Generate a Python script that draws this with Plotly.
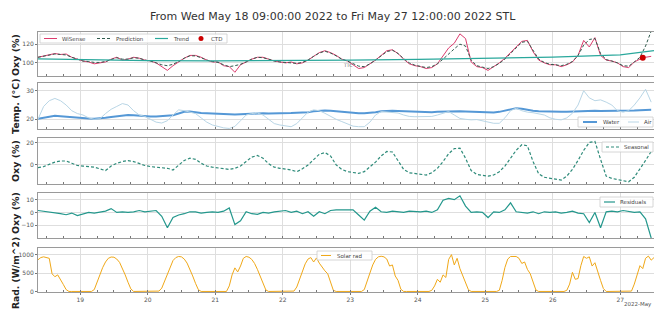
import pandas as pd
import plotly.graph_objects as go

FONT = "DejaVu Sans"

title_text = "From Wed May 18 09:00:00 2022 to Fri May 27 12:00:00 2022 STL"
start_time = "2022-05-18 09:00"
end_time = "2022-05-27 12:00"

day_ticks = ["2022-05-19", "2022-05-20", "2022-05-21", "2022-05-22", "2022-05-23",
             "2022-05-24", "2022-05-25", "2022-05-26", "2022-05-27"]
day_labels = ["19", "20", "21", "22", "23", "24", "25", "26", "27"]

# 2-hourly samples from May 18 09:00 (110 values), hourly for solar (220 values)
time_2h = pd.date_range(start_time, periods=110, freq="2h")
time_1h = pd.date_range(start_time, periods=220, freq="1h")

wisense = [
    106, 107.5, 109, 110, 109, 109.5, 106, 104,
    102, 101, 99, 100, 101, 104, 106, 103, 104, 106, 105, 103,
    102, 100, 96, 92, 97, 101, 105, 108, 108, 106, 103, 101,
    101, 97, 96, 90, 98, 101, 104, 106, 106, 104, 102, 101,
    100, 101, 99, 100, 103, 107, 111, 113, 111, 108, 104, 102,
    98, 94, 95, 99, 103, 108, 113, 114, 110, 104, 99, 97,
    96, 94, 95, 99, 108, 116, 121, 131, 126, 101, 96, 95,
    92, 96, 100, 105, 111, 118, 123, 124, 112, 103, 100, 98,
    98, 96, 98, 101, 108, 124, 117, 127, 108, 103, 102, 100,
    96, 95, 101, 104, 106, 107,
]
prediction = [
    106, 107, 108.5, 109.5, 109, 108.5, 106, 104,
    102, 101.5, 100.5, 100.5, 101.5, 103.5, 105.5, 104, 104, 105.5, 105, 103,
    102, 100, 98, 97, 98.5, 101.5, 105, 107.5, 107.5, 105.5, 103, 101.5,
    100.5, 98, 96, 97, 98.5, 101, 104, 106, 105.5, 104, 102, 101,
    100.5, 100.5, 99.5, 100.5, 103, 107, 110.5, 112.5, 110.5, 107.5, 104, 102,
    99, 96.5, 96, 99, 103, 107.5, 112, 113.5, 110, 104.5, 100, 97.5,
    96, 95, 96, 99, 104, 110, 115, 120, 118, 103, 97, 95.5,
    94, 96, 99.5, 104, 110, 117, 122, 123, 113, 104, 100.5, 98.5,
    98, 97, 98.5, 101.5, 108, 119, 125, 126, 110, 103.5, 102, 100,
    97, 96.5, 101, 106, 118, 134,
]
trend_time = ["2022-05-18 09:00", "2022-05-19 00:00", "2022-05-20 00:00", "2022-05-21 00:00",
              "2022-05-22 00:00", "2022-05-23 00:00", "2022-05-24 00:00", "2022-05-25 00:00",
              "2022-05-26 00:00", "2022-05-27 00:00", "2022-05-27 06:00", "2022-05-27 12:00"]
trend = [104.2, 103.3, 102.5, 102.1, 102.3, 102.9, 103.7, 104.7, 106.2, 108.6, 110.5, 113.0]
ctd_time = ["2022-05-27 08:00"]
ctd = [105.5]

water = [
    20.2, 20.5, 20.9, 21.2, 21.1, 20.9, 20.8, 20.6,
    20.5, 20.3, 20.2, 20.3, 20.5, 20.8, 21.1, 21.3, 21.5, 21.4, 21.2, 21.2,
    21.0, 21.0, 21.1, 21.2, 21.4, 22.0, 22.6, 22.7, 22.4, 22.2, 22.1, 22.0,
    21.9, 21.8, 21.8, 21.7, 21.8, 21.9, 22.0, 22.1, 22.1, 22.0, 22.0, 22.1,
    22.2, 22.2, 22.3, 22.3, 22.5, 22.8, 23.0, 23.1, 23.0, 22.8, 22.6, 22.4,
    22.2, 22.1, 22.1, 22.2, 22.5, 22.8, 23.0, 23.0, 22.9, 22.8, 22.7, 22.7,
    22.6, 22.6, 22.5, 22.6, 22.7, 22.8, 22.9, 22.8, 22.7, 22.6, 22.5, 22.5,
    22.4, 22.4, 22.6, 23.0, 23.5, 23.9, 23.7, 23.3, 23.0, 22.8, 22.7, 22.7,
    22.6, 22.6, 22.6, 22.7, 22.8, 22.9, 23.0, 23.0, 22.9, 22.9, 23.0, 23.0,
    23.0, 23.0, 23.1, 23.2, 23.3, 23.3,
]
air = [
    20.0, 24.5, 26.5, 27.3, 26.5, 25.0, 23.0, 22.0,
    21.5, 20.5, 20.0, 20.2, 22.0, 23.5, 24.5, 25.5, 25.0, 23.0, 21.5, 21.0,
    20.0, 19.0, 18.7, 19.5, 21.5, 23.3, 23.0, 22.5, 22.0, 20.5, 19.0, 18.0,
    17.5, 17.0, 16.8, 17.5, 19.5, 21.5, 22.0, 22.2, 21.5, 20.0, 18.5, 18.0,
    17.6, 17.4, 18.5, 20.5, 22.5, 23.3, 23.0, 22.1, 21.0, 20.0, 19.2, 18.5,
    17.6, 17.4, 17.4, 19.0, 21.5, 22.7, 22.5, 22.3, 22.2, 21.5, 21.0, 20.9,
    20.9, 20.8, 21.0, 21.5, 22.0, 22.7, 21.5, 20.3, 20.0, 19.8, 19.9, 19.5,
    19.0, 18.6, 18.6, 20.5, 23.0, 23.9, 23.0, 22.5, 22.3, 22.0, 21.5, 20.5,
    20.0, 19.8, 20.5, 22.1, 25.0, 30.0, 27.5, 26.5, 26.8, 26.0, 25.0, 23.0,
    22.5, 23.0, 25.0, 27.5, 30.5, 26.0,
]
seasonal = [
    -2.5, -1.5, 0.5, 2.5, 3.5, 3.5, 1.5, -0.5,
    -1.0, -1.5, -2.0, -3.5, -5.0, -1.0, 1.5, 3.0, 3.9, 3.0, 1.0, -0.5,
    -1.5, -2.0, -2.5, -3.0, -4.5, 0.0, 4.0, 6.0, 5.0, 1.5, -1.0, -2.0,
    -2.5, -3.0, -4.0, -3.0, -1.0, 3.0, 7.0, 8.4, 6.0, 1.0, -2.0, -3.0,
    -3.5, -4.5, -6.0, -3.5, 0.0, 4.5, 9.5, 11.0, 8.0, 0.0, -4.0, -6.0,
    -6.5, -7.5, -6.0, -2.0, 2.5, 8.0, 12.0, 11.5, 4.0, -4.0, -7.0, -7.5,
    -8.0, -9.0, -7.0, -3.0, 3.0, 10.0, 14.5, 15.0, 6.0, -5.0, -8.5, -9.0,
    -10.0, -9.0, -6.0, -1.0, 6.0, 13.0, 18.0, 17.0, 3.0, -8.0, -11.0, -12.0,
    -12.5, -13.5, -10.0, -4.0, 4.0, 13.0, 20.0, 21.0, 5.0, -10.0, -12.0, -13.0,
    -14.0, -15.0, -11.0, -4.0, 4.0, 12.0,
]
residuals = [
    1.5, 1.0, 0.5, 0.0, -1.0, -1.8, -0.5, -2.5,
    -1.0, 0.0, -0.5, 0.5, 1.0, 3.0, 0.0, 0.5, 0.0, 0.5, 1.5, 0.5,
    1.0, 1.5, -3.0, -12.0, -4.0, -2.0, -1.0, 0.5, 0.5, -0.5, 0.0, 0.5,
    0.0, 1.0, 3.5, -9.5, -6.5, 0.5, -1.0, -1.5, 0.0, -0.5, 0.5, 1.0,
    1.5, 0.0, 1.0, -1.0, 0.5, -3.0, 0.5, -1.0, 1.5, 2.0, 2.0, 1.5,
    2.0, -2.0, -6.0, 1.0, 4.0, 0.5, 0.0, 1.0, 0.5, 0.0, 1.0, 0.5,
    0.5, 1.0, 0.0, 2.0, 9.5, 11.0, 10.0, 13.0, 5.0, 0.0, 0.5, 0.0,
    -4.0, 0.5, 0.0, 2.0, 7.5, 0.5, 0.0, -0.5, 0.5, -1.0, 0.5, 0.0,
    0.5, -0.5, 0.0, 1.0, -0.5, -1.0, -8.0, 0.0, -12.0, 0.5, 1.0, 0.5,
    1.5, 0.5, 0.0, 0.5, -5.0, -20.0,
]
solar = [
    # May 18 09:00-23:00
    860, 920, 940, 930, 900, 480, 400, 450, 300, 190, 50, 0, 0, 0, 0,
    # May 19
    0, 0, 0, 0, 0, 50, 230, 450, 650, 800, 900, 935, 930, 880, 790, 640, 450, 250, 70, 0, 0, 0, 0, 0,
    # May 20
    0, 0, 0, 0, 10, 90, 280, 500, 700, 840, 920, 950, 940, 880, 770, 610, 420, 220, 50, 0, 0, 0, 0, 0,
    # May 21
    0, 0, 0, 0, 0, 150, 450, 640, 530, 690, 900, 950, 930, 870, 760, 600, 420, 220, 40, 0, 0, 0, 0, 0,
    # May 22
    0, 0, 0, 0, 10, 120, 330, 560, 750, 880, 920, 800, 910, 770, 650, 560, 480, 220, 30, 0, 0, 0, 0, 0,
    # May 23
    0, 0, 0, 0, 0, 50, 250, 500, 720, 870, 940, 955, 940, 880, 690, 720, 420, 300, 60, 0, 0, 0, 0, 0,
    # May 24
    0, 0, 0, 0, 0, 30, 150, 330, 250, 450, 380, 870, 1000, 720, 900, 620, 420, 220, 50, 0, 0, 0, 0, 0,
    # May 25
    0, 0, 0, 0, 0, 30, 300, 650, 880, 950, 955, 950, 900, 760, 800, 600, 480, 250, 40, 0, 0, 0, 0, 0,
    # May 26
    0, 0, 0, 0, 0, 30, 200, 520, 330, 350, 700, 950, 900, 940, 690, 780, 520, 300, 80, 0, 0, 0, 0, 0,
    # May 27 00:00-12:00
    0, 0, 0, 0, 10, 200, 450, 700, 620, 900, 960, 850, 920,
]

C_WISENSE = "#dc3c6e"
C_PRED = "#2f5a4c"
C_TREND = "#2aa89c"
C_CTD = "#cc0000"
C_WATER = "#5598d6"
C_AIR = "#b9d6e6"
C_SEAS = "#2e8b7a"
C_RESID = "#23978c"
C_SOLAR = "#f0a818"
DASH = "3px,2px"

fig = go.Figure()

def add(trace, row):
    suffix = "" if row == 1 else str(row)
    trace.update(xaxis="x" + suffix, yaxis="y" + suffix, showlegend=False)
    fig.add_trace(trace)

add(go.Scatter(x=time_2h, y=wisense, name="WiSense", mode="lines",
               line=dict(color=C_WISENSE, width=1)), 1)
add(go.Scatter(x=time_2h, y=prediction, name="Prediction", mode="lines",
               line=dict(color=C_PRED, width=1, dash=DASH)), 1)
add(go.Scatter(x=trend_time, y=trend, name="Trend", mode="lines",
               line=dict(color=C_TREND, width=1.2)), 1)
add(go.Scatter(x=ctd_time, y=ctd, name="CTD", mode="markers",
               marker=dict(color=C_CTD, size=6)), 1)

add(go.Scatter(x=time_2h, y=water, name="Water", mode="lines",
               line=dict(color=C_WATER, width=2)), 2)
add(go.Scatter(x=time_2h, y=air, name="Air", mode="lines",
               line=dict(color=C_AIR, width=1)), 2)

add(go.Scatter(x=time_2h, y=seasonal, name="Seasonal", mode="lines",
               line=dict(color=C_SEAS, width=1.2, dash=DASH)), 3)
add(go.Scatter(x=time_2h, y=residuals, name="Residuals", mode="lines",
               line=dict(color=C_RESID, width=1.2)), 4)
add(go.Scatter(x=time_1h, y=solar, name="Solar rad", mode="lines",
               line=dict(color=C_SOLAR, width=1)), 5)

# ---- layout geometry (pixels of the 654x310 canvas) ----
W, H = 654, 310
ML, MR, MT, MB = 38, 0, 32, 18
PW, PH = W - ML - MR, H - MT - MB

def px(xp):
    return (xp - ML) / PW

def py(yp):
    return (H - MB - yp) / PH

panel_px = [(32, 76), (83, 129), (138, 184), (193, 238), (248, 292)]
domains = [[py(b), py(t)] for (t, b) in panel_px]
yranges = [[86, 133], [16.6, 32.7], [-17, 24], [-20, 15.2], [-15, 1180]]
yticks = [[100, 120], [20, 30], [0, 20], [-10, 0, 10], [0, 500, 1000]]
ytitles = ["Oxy (%)", "Temp. (°C)", "Oxy (%)", "Oxy (%)", "Rad. (W/m^2)"]
ytitle_centers = [55, 106, 161, 213, 273]
ytitle_sizes = [9.5, 9.5, 9.5, 9.5, 9.2]

layout = dict(
    width=W, height=H,
    margin=dict(l=ML, r=MR, t=MT, b=MB, autoexpand=False),
    paper_bgcolor="white", plot_bgcolor="white",
    font=dict(family=FONT, size=6, color="#444"),
    showlegend=False,
)
annotations = []
shapes = []
for i in range(5):
    suffix = "" if i == 0 else str(i + 1)
    layout["xaxis" + suffix] = dict(
        domain=[0, 1], anchor="y" + suffix, range=[start_time, end_time],
        matches=None if i == 0 else "x",
        tickmode="array", tickvals=day_ticks, ticktext=day_labels,
        showticklabels=(i == 4), ticks="outside" if i == 4 else "", ticklen=2,
        tickcolor="#777", tickfont=dict(size=6, color="#555"),
        showgrid=True, gridcolor="#dedede", gridwidth=1,
        showline=True, linecolor="#9a9a9a", linewidth=1, mirror=True, zeroline=False,
        minor=dict(tickmode="linear", tick0="2022-05-18 00:00", dtick=21600000,
                   ticks="inside", ticklen=2, tickcolor="#777", showgrid=False),
    )
    layout["yaxis" + suffix] = dict(
        domain=domains[i], anchor="x" + suffix, range=yranges[i],
        tickmode="array", tickvals=yticks[i], ticks="outside", ticklen=2, tickcolor="#777",
        tickfont=dict(size=6, color="#555"),
        showgrid=True, gridcolor="#dedede", gridwidth=1,
        showline=True, linecolor="#9a9a9a", linewidth=1, mirror=True, zeroline=False,
    )
    annotations.append(dict(
        text="<b>" + ytitles[i] + "</b>", textangle=-90, showarrow=False,
        xref="paper", x=px(15), xanchor="center",
        yref="paper", y=py(ytitle_centers[i]), yanchor="middle",
        font=dict(family=FONT, size=ytitle_sizes[i], color="#222"),
    ))

annotations.append(dict(text=title_text, showarrow=False, xref="paper", x=px(333),
                        yref="paper", y=py(17), yanchor="middle", xanchor="center",
                        font=dict(family=FONT, size=11, color="#333")))
annotations.append(dict(text="2022-May", showarrow=False, xref="paper", x=1, xanchor="right",
                        yref="paper", y=py(304), yanchor="middle",
                        font=dict(family=FONT, size=5.5, color="#555")))
annotations.append(dict(text="TTC", showarrow=False, xref="x", x="2022-05-22 23:00",
                        yref="y", y=97, font=dict(family=FONT, size=4.5, color="#666")))

# ---- compact matplotlib-style legends (box, sample line, label) ----
def legend_box(x0, x1, y0, y1):
    shapes.append(dict(type="rect", xref="paper", yref="paper",
                       x0=px(x0), x1=px(x1), y0=py(y1), y1=py(y0),
                       line=dict(color="#cccccc", width=0.8),
                       fillcolor="rgba(255,255,255,0.85)", layer="above"))

def legend_line(x0, x1, y, color, width=1, dash=None):
    shapes.append(dict(type="line", xref="paper", yref="paper",
                       x0=px(x0), x1=px(x1), y0=py(y), y1=py(y),
                       line=dict(color=color, width=width, dash=dash), layer="above"))

def legend_dot(x, y, color):
    shapes.append(dict(type="circle", xref="paper", yref="paper",
                       x0=px(x - 2.5), x1=px(x + 2.5), y0=py(y + 2.5), y1=py(y - 2.5),
                       line=dict(color=color, width=0), fillcolor=color, layer="above"))

def legend_text(x, y, text):
    annotations.append(dict(text=text, showarrow=False, xref="paper", yref="paper",
                            x=px(x), y=py(y), xanchor="left", yanchor="middle",
                            font=dict(family=FONT, size=5.5, color="#444")))

# panel 1
legend_box(40, 227, 34, 43)
legend_line(44, 57, 38.5, C_WISENSE, 1)
legend_text(60, 38.5, "WiSense")
legend_line(97, 110, 38.5, C_PRED, 1, DASH)
legend_text(114, 38.5, "Prediction")
legend_line(155, 168, 38.5, C_TREND, 1.2)
legend_text(171, 38.5, "Trend")
legend_dot(201, 38.5, C_CTD)
legend_text(209, 38.5, "CTD")
# panel 2
legend_box(578, 653, 117, 127)
legend_line(583, 597, 122, C_WATER, 2)
legend_text(601, 122, "Water")
legend_line(628, 639, 122, C_AIR, 1)
legend_text(642, 122, "Air")
# panel 3
legend_box(602, 653, 142, 152)
legend_line(606, 619, 147, C_SEAS, 1.2, DASH)
legend_text(622, 147, "Seasonal")
# panel 4
legend_box(600, 653, 197, 207)
legend_line(604, 615, 202, C_RESID, 1.2)
legend_text(618, 202, "Residuals")
# panel 5
legend_box(317, 372, 251, 260)
legend_line(321, 331, 255.5, C_SOLAR, 1)
legend_text(335, 255.5, "Solar rad")

layout["annotations"] = annotations
layout["shapes"] = shapes

fig.update_layout(**layout)
fig.write_html("out.html",
               config={"displayModeBar": False},
               post_script="document.body.style.margin='0px';"
                           "document.documentElement.style.overflow='hidden';")
